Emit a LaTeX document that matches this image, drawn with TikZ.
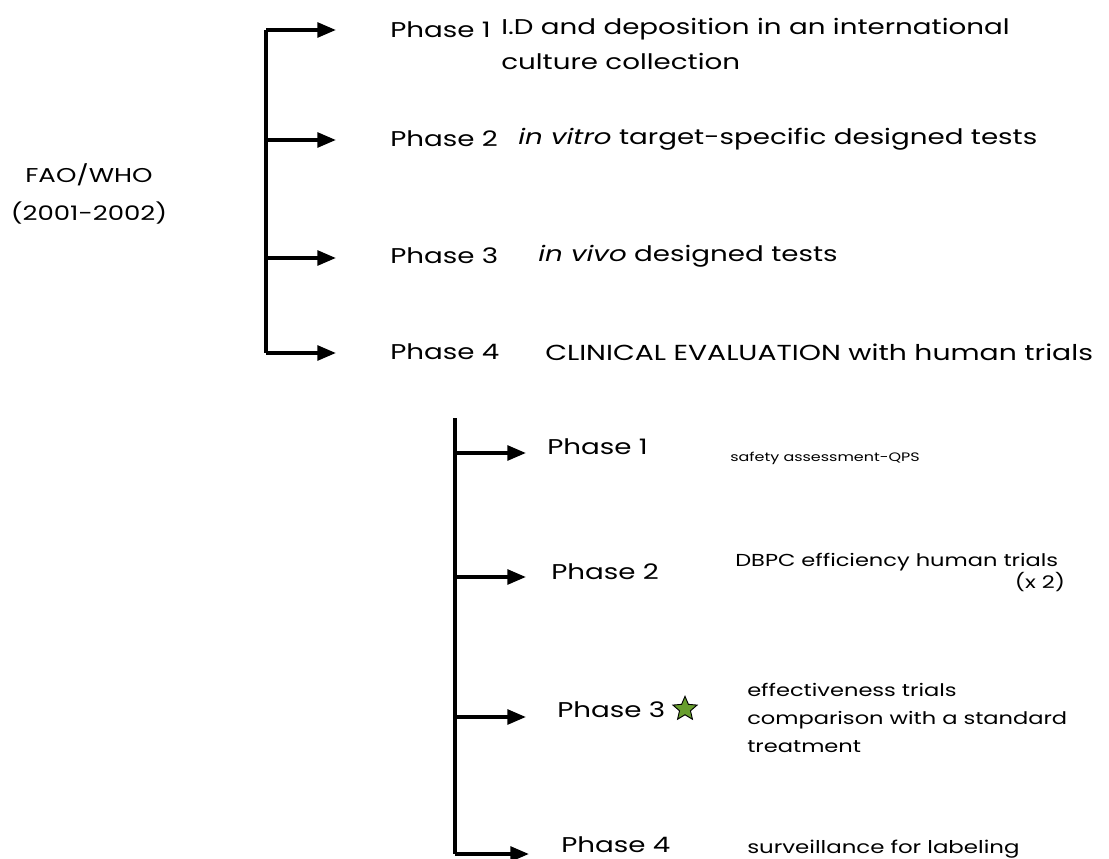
\documentclass[tikz,border=0pt]{standalone}
\usepackage{fontspec}
\setmainfont{Poppins}[FakeStretch=1.3]
\usetikzlibrary{arrows.meta,shapes.geometric}
\begin{document}
\begin{tikzpicture}[x=0.75pt,y=-0.75pt,
  br/.style={line width=2.8pt},
  arr/.style={line width=2.8pt,-{Triangle[length=14pt,width=11pt]}},
  lbl/.style={anchor=west,inner sep=0pt,font=\fontsize{16}{26}\selectfont,align=left},
  sml/.style={anchor=west,inner sep=0pt,font=\fontsize{13}{21}\selectfont,align=left},
  every node/.style={text=black}]
\useasboundingbox (0,0) rectangle (1109,859);
% top bracket
\coordinate (t0) at (266,30);
\coordinate (t1) at (266,140);
\coordinate (t2) at (266,258);
\coordinate (t3) at (266,353);
\coordinate (e0) at (336,30);
\coordinate (e1) at (336,140);
\coordinate (e2) at (336,258);
\coordinate (e3) at (336,353);
\draw[br] (t0) -- (t3);
\draw[arr] (t0) -- (e0);
\draw[arr] (t1) -- (e1);
\draw[arr] (t2) -- (e2);
\draw[arr] (t3) -- (e3);
\node[lbl,anchor=center,align=center,font=\fontsize{15}{28}\selectfont] (fao) at (89,194) {FAO/WHO\\(2001-2002)};
\node[lbl] (p1) at (390,30) {Phase 1};
\node[lbl] (d1) at (501,44) {I.D and deposition in an international\\culture collection};
\node[lbl] (p2) at (390,139) {Phase 2};
\node[lbl] (d2) at (518,139) {{\itshape in vitro} target-specific designed tests};
\node[lbl] (p3) at (390,256) {Phase 3};
\node[lbl] (d3) at (538,256) {{\itshape in vivo} designed tests};
\node[lbl] (p4) at (390,352) {Phase 4};
\node[lbl,font=\fontsize{16.3}{26}\selectfont] (d4) at (545,352) {CLINICAL EVALUATION with human trials};
% bottom bracket
\coordinate (b0) at (455,418);
\coordinate (b1) at (455,453);
\coordinate (b2) at (455,577);
\coordinate (b3) at (455,717);
\coordinate (b4) at (455,854);
\coordinate (f1) at (526,453);
\coordinate (f2) at (526,577);
\coordinate (f3) at (526,717);
\coordinate (f4) at (529,854);
\draw[br] (b0) -- (b4);
\draw[arr] (b1) -- (f1);
\draw[arr] (b2) -- (f2);
\draw[arr] (b3) -- (f3);
\draw[arr] (b4) -- (f4);
\node[lbl] (q1) at (547,447) {Phase 1};
\node[sml,font=\fontsize{9.2}{12}\selectfont] (s1) at (730,458) {safety assessment-QPS};
\node[lbl] (q2) at (551,572) {Phase 2};
\node[sml,align=right,font=\fontsize{13}{14}\selectfont] (s2) at (735,572) {DBPC efficiency human trials\\(x 2)\kern-0.4em};
\node[lbl] (q3) at (557,710) {Phase 3};
\node[star,star points=5,star point ratio=2.2,minimum size=19pt,inner sep=0pt,draw=black,line width=0.7pt,fill={rgb,255:red,104;green,158;blue,46}] (star) at (685,709) {};
\node[sml] (s3) at (747,718) {effectiveness trials\\comparison with a standard\\treatment};
\node[lbl] (q4) at (561,845) {Phase 4};
\node[sml,font=\fontsize{13.2}{21}\selectfont] (s4) at (747,849) {surveillance for labeling};
\end{tikzpicture}
\end{document}
